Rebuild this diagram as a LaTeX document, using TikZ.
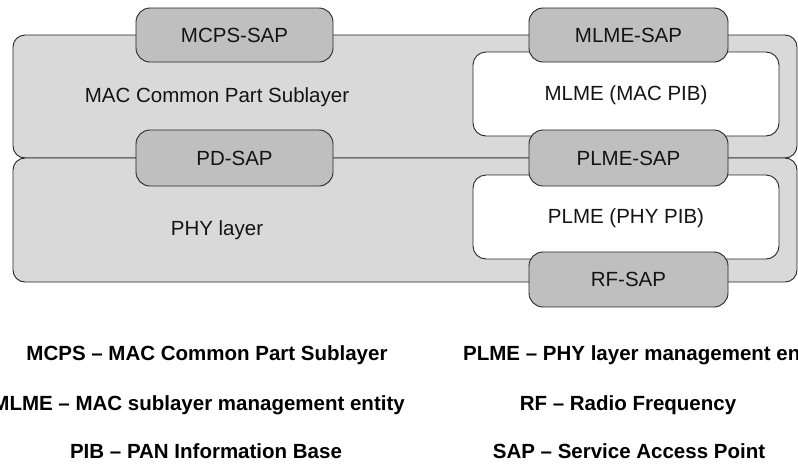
\documentclass[tikz,border=0pt]{standalone}
\usepackage{fontspec}
\setmainfont{Liberation Sans}
\begin{document}
\begin{tikzpicture}[x=1pt,y=-1pt,
  every node/.style={font=\fontsize{20.5}{24}\selectfont, text=black!92, inner sep=0pt},
  layerbox/.style={draw=black!85, line width=0.9pt, fill=black!15, rounded corners=12pt},
  mgmtbox/.style={draw=black!85, line width=0.9pt, fill=white, rounded corners=13pt},
  sapbox/.style={draw=black!85, line width=0.9pt, fill=black!25, rounded corners=14pt},
  legend/.style={font=\fontsize{20.5}{24}\selectfont\bfseries, text=black}]
\useasboundingbox (0,0) rectangle (798,467);
\clip (0,0) rectangle (798,467);

% layers
\node[layerbox, minimum width=784pt, minimum height=123pt] (mac) at (405,96.5) {};
\node[layerbox, minimum width=784pt, minimum height=124pt] (phy) at (405,220) {};
\node at (217,97) (macl) {MAC Common Part Sublayer};
\node at (217,230) (phyl) {PHY layer};

% management entities
\node[mgmtbox, minimum width=306pt, minimum height=84pt] (mlme) at (626,94) {};
\node[mgmtbox, minimum width=306pt, minimum height=84pt] (plme) at (626,217) {};
\node at (626,95) (mlmel) {MLME (MAC PIB)};
\node at (626,218) (plmel) {PLME (PHY PIB)};

% service access points
\node[sapbox, minimum width=197pt, minimum height=54pt] (mcps) at (234.5,35) {MCPS-SAP};
\node[sapbox, minimum width=197pt, minimum height=56pt] (pd) at (234.5,158) {PD-SAP};
\node[sapbox, minimum width=199pt, minimum height=54pt] (mlmesap) at (628.5,35) {MLME-SAP};
\node[sapbox, minimum width=199pt, minimum height=56pt] (plmesap) at (628.5,158) {PLME-SAP};
\node[sapbox, minimum width=199pt, minimum height=55pt] (rf) at (628.5,279.5) {RF-SAP};

% abbreviations
\node[legend] (l1) at (207,355) {MCPS – MAC Common Part Sublayer};
\node[legend, anchor=east] (l2) at (405,405) {MLME – MAC sublayer management entity};
\node[legend] (l3) at (206,451) {PIB – PAN Information Base};
\node[legend, anchor=west] (r1) at (463,355) {PLME – PHY layer management entity};
\node[legend] (r2) at (628,405) {RF – Radio Frequency};
\node[legend] (r3) at (629,451) {SAP – Service Access Point};
\end{tikzpicture}
\end{document}
